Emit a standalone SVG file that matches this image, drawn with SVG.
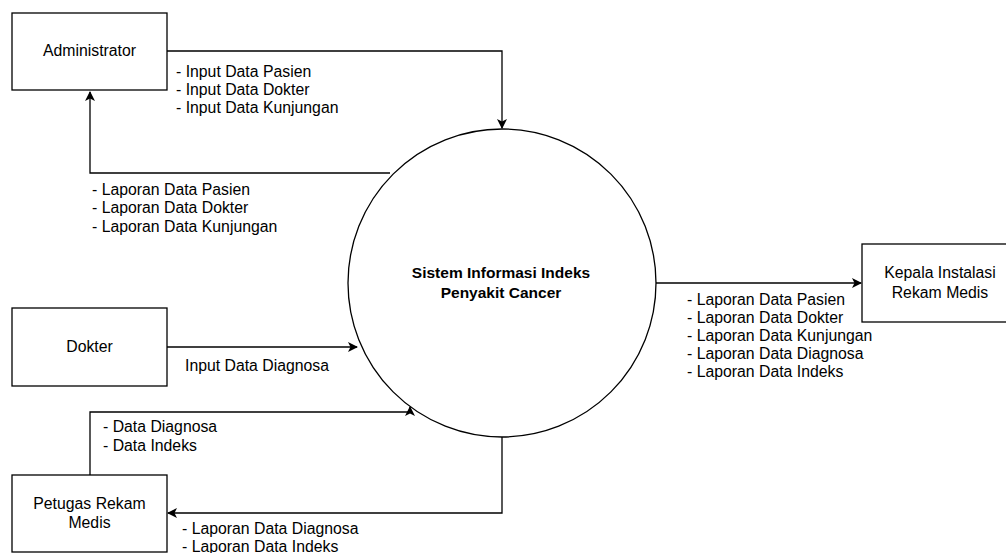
<svg xmlns="http://www.w3.org/2000/svg" width="1006" height="553" viewBox="0 0 1006 553">
  <style>
    .box { fill: #ffffff; stroke: #000000; stroke-width: 1.3; }
    .proc { fill: #ffffff; stroke: #000000; stroke-width: 1.3; }
    .flow { fill: none; stroke: #000000; stroke-width: 1.3; }
    .t { font-family: "Liberation Sans", Arial, Helvetica, sans-serif; font-size: 15.8px; fill: #000000; }
    .mid { text-anchor: middle; }
    .b { font-weight: bold; font-size: 15.5px; }
  </style>
  <defs>
    <marker id="arrow" viewBox="0 0 10 10" refX="9" refY="5" markerWidth="10" markerHeight="10" markerUnits="userSpaceOnUse" orient="auto">
      <path d="M0,0 L10,5 L0,10 L2.5,5 Z" fill="#000000"/>
    </marker>
  </defs>
  <rect width="1006" height="553" fill="#ffffff"/>

  <!-- data flows -->
  <g id="connectors">
    <path class="flow" d="M167,51 H502 V128" marker-end="url(#arrow)"/>
    <path class="flow" d="M390,173 H90 V92" marker-end="url(#arrow)"/>
    <path class="flow" d="M167,347 H357" marker-end="url(#arrow)"/>
    <path class="flow" d="M90,476 V412 H410 V407" marker-end="url(#arrow)"/>
    <path class="flow" d="M502,437 V513 H168" marker-end="url(#arrow)"/>
    <path class="flow" d="M656,283 H861" marker-end="url(#arrow)"/>
  </g>

  <g id="labels">
    <text class="t" x="176" y="77">- Input Data Pasien</text>
    <text class="t" x="176" y="95">- Input Data Dokter</text>
    <text class="t" x="176" y="113">- Input Data Kunjungan</text>

    <text class="t" x="92" y="195">- Laporan Data Pasien</text>
    <text class="t" x="92" y="213">- Laporan Data Dokter</text>
    <text class="t" x="92" y="232">- Laporan Data Kunjungan</text>

    <text class="t" x="185" y="371">Input Data Diagnosa</text>

    <text class="t" x="103" y="432">- Data Diagnosa</text>
    <text class="t" x="103" y="451">- Data Indeks</text>

    <text class="t" x="182" y="534">- Laporan Data Diagnosa</text>
    <text class="t" x="182" y="552">- Laporan Data Indeks</text>

    <text class="t" x="687" y="305">- Laporan Data Pasien</text>
    <text class="t" x="687" y="323">- Laporan Data Dokter</text>
    <text class="t" x="687" y="341">- Laporan Data Kunjungan</text>
    <text class="t" x="687" y="359">- Laporan Data Diagnosa</text>
    <text class="t" x="687" y="377">- Laporan Data Indeks</text>
  </g>

  <g id="administrator">
    <rect class="box" x="12" y="13" width="155" height="77"/>
    <text class="t mid" x="89.5" y="56">Administrator</text>
  </g>

  <g id="dokter">
    <rect class="box" x="12" y="308" width="155" height="78"/>
    <text class="t mid" x="89.5" y="352">Dokter</text>
  </g>

  <g id="petugas-rekam-medis">
    <rect class="box" x="12" y="475" width="155" height="77"/>
    <text class="t mid" x="89.5" y="509">Petugas Rekam</text>
    <text class="t mid" x="89.5" y="528">Medis</text>
  </g>

  <g id="kepala-instalasi">
    <rect class="box" x="862" y="244" width="156" height="78"/>
    <text class="t mid" x="940" y="278">Kepala Instalasi</text>
    <text class="t mid" x="940" y="298">Rekam Medis</text>
  </g>

  <g id="sistem-informasi">
    <circle class="proc" cx="502" cy="283" r="154"/>
    <text class="t mid b" x="501" y="278">Sistem Informasi Indeks</text>
    <text class="t mid b" x="501" y="298">Penyakit Cancer</text>
  </g>
</svg>
